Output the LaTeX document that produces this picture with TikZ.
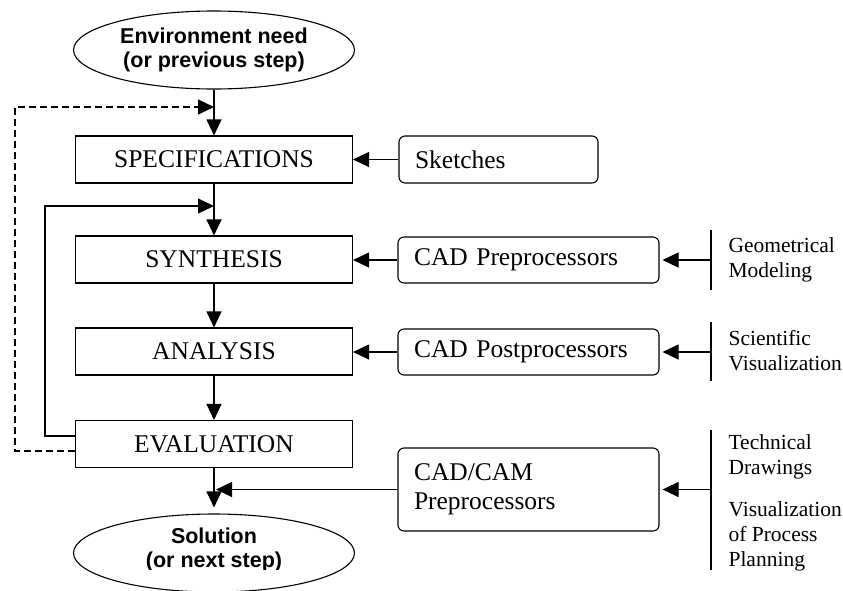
\documentclass[tikz,border=0pt]{standalone}
\usepackage{fontspec}
\setmainfont{Liberation Serif}
\newfontfamily\headfont{Liberation Sans}
\usetikzlibrary{arrows.meta,shapes.geometric,calc}

\begin{document}
\begin{tikzpicture}[x=1pt, y=-1pt, line width=1.1pt,
  stage/.style={draw, rectangle, minimum width=277pt, minimum height=47pt,
    inner sep=0pt, font=\fontsize{25.5}{29}\selectfont},
  tool/.style={draw, rectangle, rounded corners=6pt, text width=229pt,
    inner xsep=16pt, inner ysep=0pt, align=left,
    font=\fontsize{25.5}{29}\selectfont},
  term/.style={draw, ellipse, minimum width=281pt, minimum height=78pt,
    inner sep=0pt, align=center},
  termtext/.style={inner sep=0pt, align=center,
    font=\headfont\bfseries\fontsize{21.5}{24}\selectfont},
  note/.style={anchor=west, inner sep=0pt, align=left,
    font=\fontsize{21.5}{25}\selectfont},
  arr/.style={-{Triangle[length=16pt,width=15pt]}},
  feedback/.style={arr, dash pattern=on 7pt off 4pt}]

\useasboundingbox (0,0) rectangle (843,590);

% start and end terminals
\node[term, termtext] (need) at (214,50) {Environment need\\(or previous step)};
\node[term] (sol) at (214,553) {};
\begin{scope}
  \clip (0,0) rectangle (843,569);
  \node[termtext] (soltext) at (214,550) {Solution\\(or next step)};
\end{scope}

% design stages
\node[stage] (spec) at (214,159.5) {SPECIFICATIONS};
\node[stage] (syn)  at (214,259.5) {SYNTHESIS};
\node[stage] (ana)  at (214,351.5) {ANALYSIS};
\node[stage] (eval) at (214,444)   {EVALUATION};

% computer tools
\node[tool, text width=167pt, minimum height=47pt] (sketch) at (498.5,159.5) {Sketches};
\node[tool, minimum height=46pt] (pre)  at (528.5,260) {CAD Preprocessors};
\node[tool, minimum height=46pt] (post) at (528.5,352) {CAD Postprocessors};
\node[tool, minimum height=83pt] (cam)  at (528.5,489.5) {CAD/CAM\\Preprocessors};

% application areas
\node[note] (geo) at (728,260) {Geometrical\\Modeling};
\node[note] (sci) at (728,351) {Scientific\\Visualization};
\node[note] (tech) at (728,457) {Technical\\Drawings};
\node[note] (proc) at (728,536) {Visualization\\of Process\\Planning};

% brackets in front of the application areas
\draw (711,230) -- (711,290);
\draw (711,322) -- (711,381);
\draw (711,430) -- (711,570);
\coordinate (geobar)  at (711,260);
\coordinate (scibar)  at (711,352);
\coordinate (techbar) at (711,489.5);

% main flow
\draw[arr] (need.south) -- (spec.north);
\draw[arr] (spec.south) -- (syn.north);
\draw[arr] (syn.south)  -- (ana.north);
\draw[arr] (ana.south)  -- (eval.north);
\draw[arr, shorten >=6pt] (eval.south) -- (sol.north);

% tool inputs
\draw[arr] (sketch.west) -- (spec.east);
\draw[arr] (pre.west)  -- (syn.east |- pre.west);
\draw[arr] (post.west) -- (ana.east |- post.west);
\coordinate (camin) at (216,489.5);
\draw[arr] (cam.west) -- (camin);
\draw[arr, shorten >=3pt] (geobar)  -- (pre.east);
\draw[arr, shorten >=3pt] (scibar)  -- (post.east);
\draw[arr, shorten >=3pt] (techbar) -- (cam.east);

% iteration loops
\coordinate (loopin) at (214,206);
\coordinate (backin) at (214,107);
\draw[arr] ($(eval.west)+(0,-8)$) -| (45,206) -- (loopin);
\draw[feedback] ($(eval.west)+(0,7)$) -| (15,107) -- (backin);
\end{tikzpicture}
\end{document}
